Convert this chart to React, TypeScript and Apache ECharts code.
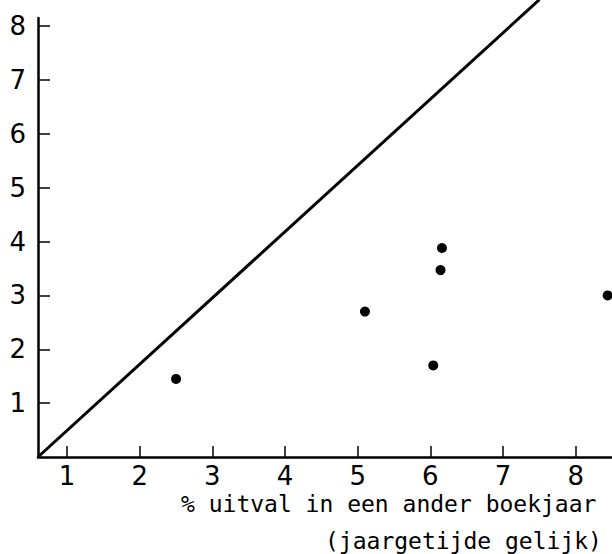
import React, { useEffect, useRef } from "react";
import * as echarts from "echarts";

const xTicks = [1, 2, 3, 4, 5, 6, 7, 8];
const yTicks = [1, 2, 3, 4, 5, 6, 7, 8];
const pointsX = [2.5, 5.1, 6.04, 6.14, 6.16, 8.44];
const pointsY = [1.45, 2.7, 1.7, 3.47, 3.88, 3.0];
const diagonalX = [0.6, 7.5];
const diagonalY = [0, 8.49];
const xTitleLines = ["% uitval in een ander boekjaar", "(jaargetijde gelijk)"];

export default function App() {
  const ref = useRef<HTMLDivElement>(null);
  useEffect(() => {
    if (!ref.current) return;
    const chart = echarts.init(ref.current, null, { renderer: "svg" });
    const ink = "#000";
    chart.setOption({
      animation: false,
      backgroundColor: "#fff",
      grid: { left: 38, right: 0, top: 18, bottom: 97, containLabel: false },
      xAxis: {
        type: "value",
        min: 0.6,
        max: 8.5,
        splitLine: { show: false },
        axisLine: { show: true, onZero: false, lineStyle: { color: ink, width: 2.5 } },
        axisTick: {
          show: true,
          inside: true,
          length: 11,
          customValues: xTicks,
          lineStyle: { color: ink, width: 1.5 },
        },
        axisLabel: {
          show: true,
          customValues: xTicks,
          margin: 6,
          color: ink,
          fontFamily: "DejaVu Sans",
          fontWeight: 500,
          fontSize: 26,
        },
      },
      yAxis: {
        type: "value",
        min: 0,
        max: 8.15,
        splitLine: { show: false },
        axisLine: { show: true, onZero: false, lineStyle: { color: ink, width: 2.5 } },
        axisTick: {
          show: true,
          inside: true,
          length: 12,
          customValues: yTicks,
          lineStyle: { color: ink, width: 1.5 },
        },
        axisLabel: {
          show: true,
          customValues: yTicks,
          margin: 12,
          color: ink,
          fontFamily: "DejaVu Sans",
          fontWeight: 500,
          fontSize: 26,
        },
      },
      series: [
        {
          type: "line",
          data: diagonalX.map((x, i) => [x, diagonalY[i]]),
          clip: false,
          showSymbol: false,
          symbol: "none",
          lineStyle: { color: ink, width: 3 },
          z: 3,
        },
        {
          type: "scatter",
          data: pointsX.map((x, i) => [x, pointsY[i]]),
          clip: false,
          symbol: "circle",
          symbolSize: 10,
          itemStyle: { color: ink, opacity: 1 },
          z: 4,
        },
      ],
      graphic: [
        {
          type: "text",
          left: 181,
          top: 492,
          style: {
            text: xTitleLines[0],
            fill: ink,
            font: "23px 'DejaVu Sans Mono'",
          },
        },
        {
          type: "text",
          left: 325,
          top: 529,
          style: {
            text: xTitleLines[1],
            fill: ink,
            font: "23px 'DejaVu Sans Mono'",
          },
        },
      ],
    });
    return () => chart.dispose();
  }, []);
  return (
    <div
      ref={ref}
      style={{ position: "fixed", left: 0, top: 0, width: 612, height: 554, background: "#fff" }}
    />
  );
}
